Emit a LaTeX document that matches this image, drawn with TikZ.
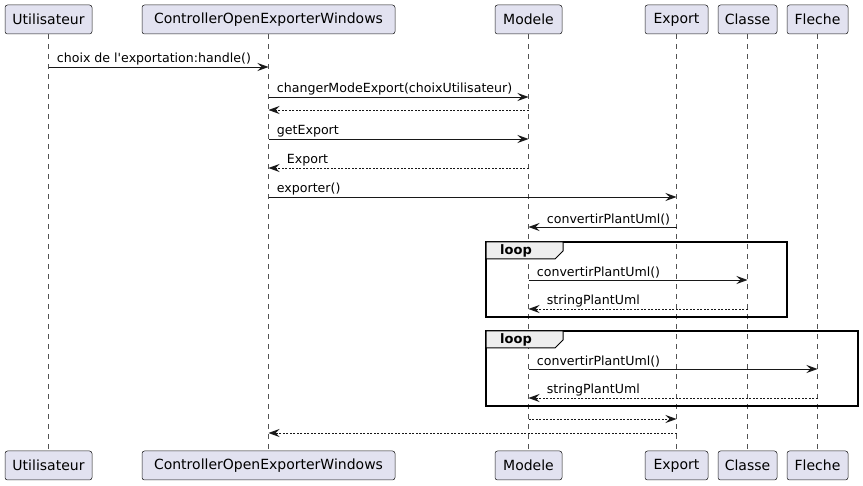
\documentclass[tikz,border=0pt]{standalone}
\usepackage{fontspec}
\setmainfont{DejaVu Sans}
\usetikzlibrary{arrows.meta,positioning}
\definecolor{partfill}{HTML}{E2E2F0}
\definecolor{umlline}{HTML}{181818}
\definecolor{tabfill}{HTML}{EEEEEE}

\begin{document}
\begin{tikzpicture}[x=1pt,y=-1pt,
    participant/.style={draw=umlline,fill=partfill,rounded corners=2.5pt,minimum height=29pt,
        inner xsep=0pt,line width=0.5pt,font=\fontsize{14}{16}\selectfont},
    lifeline/.style={draw=umlline!75,dash pattern=on 5pt off 5pt,line width=0.5pt},
    call/.style={draw=umlline,line width=0.8pt,-{Stealth[length=11pt,width=8pt,inset=4pt]}},
    reply/.style={call,dash pattern=on 2pt off 1.5pt},
    lbl/.style={font=\fontsize{12.6}{15}\selectfont,inner sep=0pt,anchor=south west,yshift=1.5pt},
    frame/.style={draw=black,line width=1.5pt},
    looptag/.style={font=\bfseries\fontsize{13}{15}\selectfont,inner sep=0pt}]
    \useasboundingbox (0,0) rectangle (863,486);

    % Participants
    \node[participant,minimum width=87pt] (uT) at (48.5,19.5) {Utilisateur};
    \node[participant,minimum width=253pt] (cT) at (268.5,19.5) {ControllerOpenExporterWindows};
    \node[participant,minimum width=67pt] (mT) at (528.5,19.5) {Modele};
    \node[participant,minimum width=63pt] (eT) at (676.5,19.5) {Export};
    \node[participant,minimum width=59pt] (clT) at (747.5,19.5) {Classe};
    \node[participant,minimum width=61pt] (fT) at (817.5,19.5) {Fleche};

    \node[participant,minimum width=87pt] (uB) at (48.5,465.5) {Utilisateur};
    \node[participant,minimum width=253pt] (cB) at (268.5,465.5) {ControllerOpenExporterWindows};
    \node[participant,minimum width=67pt] (mB) at (528.5,465.5) {Modele};
    \node[participant,minimum width=63pt] (eB) at (676.5,465.5) {Export};
    \node[participant,minimum width=59pt] (clB) at (747.5,465.5) {Classe};
    \node[participant,minimum width=61pt] (fB) at (817.5,465.5) {Fleche};

    % Lignes de vie
    \foreach \p in {u,c,m,e,cl,f} {
        \draw[lifeline] (\p T) -- (\p B);
    }

    % Boucles
    \draw[frame] (486,242) rectangle (787,317);
    \filldraw[fill=tabfill,draw=black,line width=1pt] (486,242) -- (563,242) -- (563,251) -- (555,259) -- (486,259) -- cycle;
    \node[looptag,anchor=west] (loop1) at (500,250.5) {loop};

    \draw[frame] (486,331) rectangle (858,406);
    \filldraw[fill=tabfill,draw=black,line width=1pt] (486,331) -- (563,331) -- (563,340) -- (555,348) -- (486,348) -- cycle;
    \node[looptag,anchor=west] (loop2) at (500,339.5) {loop};

    % Messages
    \draw[call] (uT |- 0,67) -- (cT |- 0,67)
        node[lbl,pos=0,xshift=8pt] {choix de l\textquotesingle exportation:handle()};
    \draw[call] (cT |- 0,97) -- (mT |- 0,97)
        node[lbl,pos=0,xshift=8pt] {changerModeExport(choixUtilisateur)};
    \draw[reply] (mT |- 0,110) -- (cT |- 0,110);
    \draw[call] (cT |- 0,139) -- (mT |- 0,139)
        node[lbl,pos=0,xshift=8pt] {getExport};
    \draw[reply] (mT |- 0,168) -- (cT |- 0,168)
        node[lbl,pos=1,xshift=18pt] {Export};
    \draw[call] (cT |- 0,197) -- (eT |- 0,197)
        node[lbl,pos=0,xshift=8pt] {exporter()};
    \draw[call] (eT |- 0,227) -- (mT |- 0,227)
        node[lbl,pos=1,xshift=18pt] {convertirPlantUml()};

    \draw[call] (mT |- 0,280) -- (clT |- 0,280)
        node[lbl,pos=0,xshift=8pt] {convertirPlantUml()};
    \draw[reply] (clT |- 0,309) -- (mT |- 0,309)
        node[lbl,pos=1,xshift=18pt] {stringPlantUml};

    \draw[call] (mT |- 0,369) -- (fT |- 0,369)
        node[lbl,pos=0,xshift=8pt] {convertirPlantUml()};
    \draw[reply] (fT |- 0,398) -- (mT |- 0,398)
        node[lbl,pos=1,xshift=18pt] {stringPlantUml};

    \draw[reply] (mT |- 0,419) -- (eT |- 0,419);
    \draw[reply] (eT |- 0,433) -- (cT |- 0,433);
\end{tikzpicture}
\end{document}
